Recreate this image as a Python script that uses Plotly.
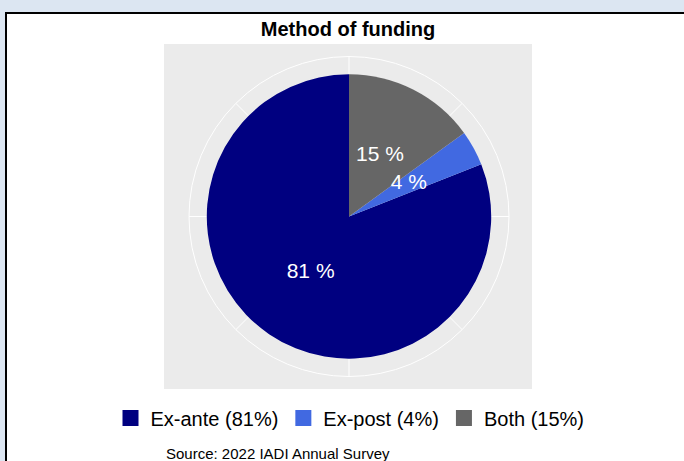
import plotly.graph_objects as go

# data
labels = ["Ex-ante", "Ex-post", "Both"]
shares = [81, 4, 15]
slice_colors = ["#000080", "#4169e1", "#666666"]

W, H = 684, 461
FONT = "Arial, Liberation Sans, sans-serif"


def px_x(v):
    return v / W


def px_y(v):
    # pixels from top -> paper fraction from bottom
    return 1 - v / H


fig = go.Figure()

# slices go clockwise from 12 o'clock: Both, Ex-post, Ex-ante
mids, spans = [], []
for i, v in enumerate(shares):
    start = sum(shares[i + 1:])
    mids.append((start + v / 2) * 3.6)
    spans.append(v * 3.6)

for lab, v, col, th, wd in zip(labels, shares, slice_colors, mids, spans):
    fig.add_trace(go.Barpolar(
        r=[1], theta=[th], width=[wd],
        marker=dict(color=col, line=dict(width=0)),
        name=f"{lab} ({v}%)", legendgroup=lab, showlegend=False,
        hoverinfo="skip",
    ))

fig.add_trace(go.Scatterpolar(
    r=[0.48] * len(shares), theta=mids,
    mode="text",
    text=[f"{v} %" for v in shares],
    textfont=dict(color="white", size=21, family=FONT),
    showlegend=False, hoverinfo="skip",
))

# legend entries with bigger square keys
for lab, v, col in zip(labels, shares, slice_colors):
    fig.add_trace(go.Scatterpolar(
        r=[None], theta=[None], mode="markers",
        marker=dict(symbol="square", size=17, color=col),
        name=f"{lab} ({v}%)", legendgroup=lab,
    ))

# pie centre ~ (349, 216.5) px, outer grid circle radius ~160 px
cx, cy, R = 349, 216.5, 160

fig.update_layout(
    width=W, height=H,
    margin=dict(l=0, r=0, t=0, b=0),
    paper_bgcolor="#dce6f2",
    font=dict(family=FONT, color="black"),
    title=dict(text="<b>Method of funding</b>", x=px_x(348), xanchor="center",
               y=px_y(29), yanchor="middle", font=dict(size=20, color="black")),
    polar=dict(
        domain=dict(x=[px_x(cx - R), px_x(cx + R)], y=[px_y(cy + R), px_y(cy - R)]),
        bgcolor="#ebebeb",
        radialaxis=dict(visible=False, range=[0, 1.125]),
        angularaxis=dict(direction="clockwise", rotation=90, dtick=45,
                         showticklabels=False, ticks="",
                         gridcolor="white", gridwidth=1,
                         showline=True, linecolor="white", linewidth=1),
    ),
    legend=dict(orientation="h", x=px_x(350), xanchor="center",
                y=px_y(418), yanchor="middle",
                font=dict(size=20, color="black"),
                bgcolor="rgba(0,0,0,0)", itemclick=False),
    shapes=[
        dict(type="rect", xref="paper", yref="paper", layer="below",
             x0=px_x(6), x1=1.02, y0=-0.02, y1=px_y(13),
             fillcolor="white", line=dict(color="black", width=2)),
        dict(type="rect", xref="paper", yref="paper", layer="below",
             x0=px_x(164), x1=px_x(532), y0=px_y(389), y1=px_y(44),
             fillcolor="#ebebeb", line=dict(width=0)),
    ],
    annotations=[
        dict(text="Source: 2022 IADI Annual Survey", xref="paper", yref="paper",
             x=px_x(164), xanchor="left", y=px_y(453), yanchor="middle",
             showarrow=False, font=dict(size=15, color="black")),
    ],
)

# page body has an 8px default margin; drop it so the figure fills the window
fig.write_html("out.html", config={"displayModeBar": False},
               post_script="document.body.style.margin='0';")
